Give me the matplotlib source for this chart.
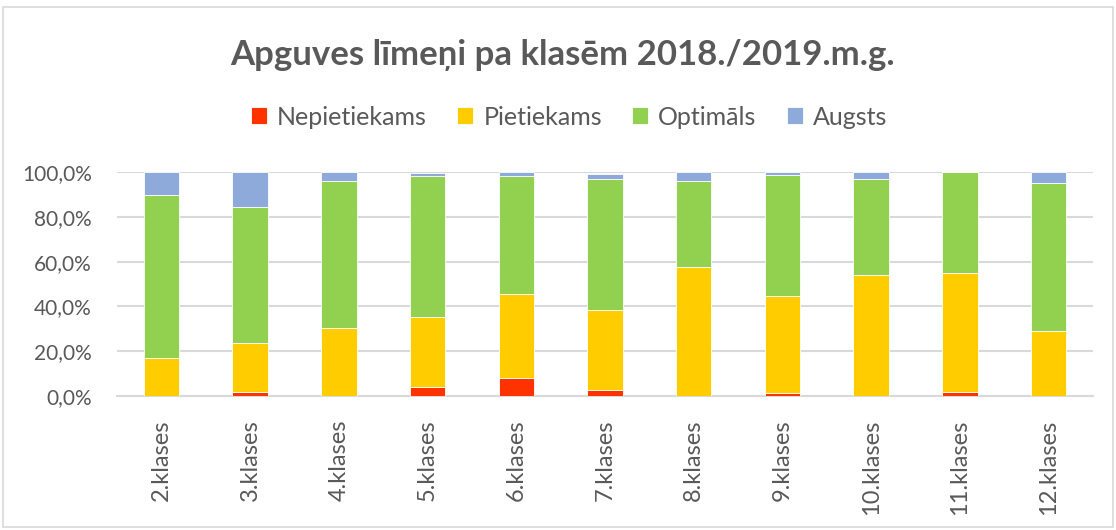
import matplotlib.pyplot as plt
from matplotlib.patches import Rectangle
from matplotlib.ticker import FuncFormatter, MultipleLocator
import numpy as np

klases = ['2.klases', '3.klases', '4.klases', '5.klases', '6.klases', '7.klases',
          '8.klases', '9.klases', '10.klases', '11.klases', '12.klases']
nepietiekams = [0.0, 1.6, 0.0, 4.2, 7.9, 2.8, 0.0, 1.5, 0.0, 1.6, 0.0]
pietiekams = [16.8, 21.9, 30.2, 31.1, 37.5, 35.7, 57.6, 43.1, 53.9, 53.3, 29.0]
optimals = [72.9, 60.7, 65.8, 62.8, 52.7, 58.2, 38.5, 54.1, 42.8, 45.1, 65.9]
augsts = [10.3, 15.8, 4.0, 1.3, 1.9, 2.6, 3.9, 1.3, 3.3, 0.0, 5.1]

series = [('Nepietiekams', nepietiekams, '#ff3300'),
          ('Pietiekams', pietiekams, '#ffcc00'),
          ('Optimāls', optimals, '#92d050'),
          ('Augsts', augsts, '#8eaadb')]

plt.rcParams['font.family'] = ['Lato', 'DejaVu Sans']
txt = '#595959'
grid = '#d9d9d9'

W, H = 1116, 530
fig = plt.figure(figsize=(W / 100, H / 100), dpi=100)
ax = fig.add_axes([117 / W, 1 - 396 / H, (1093 - 117) / W, (396 - 172) / H])

x = np.arange(len(klases))
bottom = np.zeros(len(klases))
handles = []
for name, vals, col in series:
    v = np.array(vals)
    b = ax.bar(x, v, 0.4, bottom=bottom, color=col, edgecolor='white',
               linewidth=0.6, label=name, zorder=3)
    handles.append(b)
    bottom += v

ax.set_xlim(-0.5, len(klases) - 0.5)
ax.set_ylim(0, 100)
ax.yaxis.set_major_locator(MultipleLocator(20))
ax.yaxis.set_major_formatter(FuncFormatter(lambda v, p: f'{v:.1f}%'.replace('.', ',')))
ax.grid(axis='y', color=grid, linewidth=1.5, zorder=0)
for s in ['top', 'right', 'left']:
    ax.spines[s].set_visible(False)
ax.spines['bottom'].set_color(grid)
ax.spines['bottom'].set_linewidth(1.5)
ax.tick_params(axis='both', length=0, colors=txt)
ax.tick_params(axis='y', pad=18, labelsize=15)
ax.tick_params(axis='x', pad=17, labelsize=17)
ax.set_xticks(x)
ax.set_xticklabels(klases, rotation=90)

fig.text(562 / W, 1 - 55 / H, 'Apguves līmeņi pa klasēm 2018./2019.m.g.',
         ha='center', va='center', fontsize=25, fontweight='bold', color=txt)
fig.legend(handles=handles, loc='center', bbox_to_anchor=(569 / W, 1 - 117 / H),
           ncol=4, frameon=False, fontsize=18, labelcolor=txt,
           handlelength=0.65, handleheight=0.65, handletextpad=0.4, columnspacing=1.2)

fig.patches.append(Rectangle((3 / W, 3 / H), 1110 / W, 520 / H, transform=fig.transFigure,
                             fill=False, edgecolor=grid, linewidth=1.2))

fig.savefig('out.png', dpi=100)
